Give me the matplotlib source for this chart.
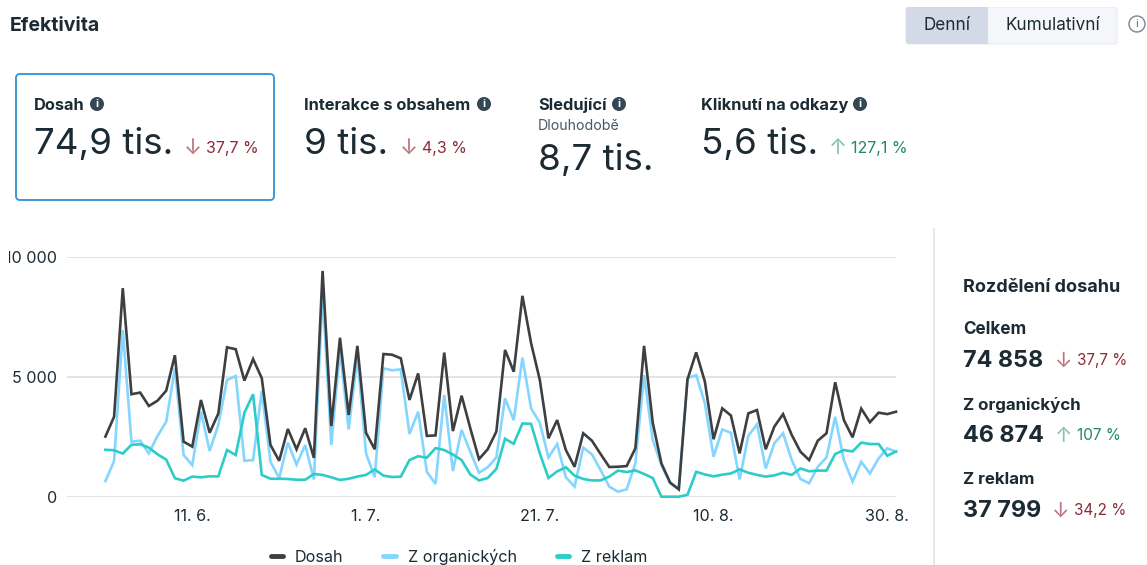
import matplotlib
matplotlib.use('Agg')
import matplotlib.pyplot as plt
from matplotlib.lines import Line2D
from matplotlib.patches import Circle, FancyBboxPatch, Rectangle
from matplotlib.transforms import Bbox
import numpy as np

plt.rcParams['font.family'] = ['Inter', 'DejaVu Sans']

# daily values, 1. 6. to 31. 8.
dosah = [2510, 3340, 8710, 4280, 4350, 3790, 4010, 4430, 5910, 2300, 2090, 4040, 2670, 3480, 6240, 6160,
         4850, 5750, 4950, 2160, 1500, 2830, 1980, 2860, 1620, 9430, 2950, 6640, 3410, 6300, 2670, 1980,
         5960, 5930, 5780, 4040, 5150, 2540, 2560, 6020, 2740, 4220, 2860, 1570, 1980, 2720, 6130, 5220,
         8390, 6410, 4880, 2440, 3200, 1950, 1250, 2650, 2340, 1780, 1240, 1250, 1280, 2020, 6300, 3090,
         1390, 590, 310, 4900, 6030, 4810, 2400, 3690, 3390, 1810, 3480, 3620, 1980, 2930, 3450, 2580,
         1880, 1530, 2340, 2650, 4780, 3200, 2480, 3680, 3110, 3510, 3450, 3550]
organicke = [650, 1490, 6960, 2300, 2340, 1810, 2540, 3130, 5360, 1740, 1320, 3550, 1910, 3000, 4880, 5040,
             1500, 1530, 4420, 1460, 780, 2260, 1340, 2160, 720, 8500, 2160, 6130, 2810, 5850, 1810, 810,
             5360, 5280, 5320, 2620, 3550, 1040, 530, 4250, 1070, 2790, 1880, 1000, 1230, 1640, 4110, 3200,
             5810, 3690, 3090, 1640, 2200, 810, 420, 2050, 1770, 1110, 420, 210, 310, 1390, 5080, 2370,
             1320, 560, 310, 4950, 5080, 3900, 1670, 2810, 2670, 720, 2540, 3020, 1180, 2230, 2650, 1530,
             740, 560, 1250, 1640, 3340, 1530, 630, 1460, 970, 1600, 2020, 1880]
reklamy = [1960, 1940, 1800, 2170, 2190, 2050, 1770, 1550, 770, 670, 840, 810, 850, 850, 1950, 1740,
           3510, 4280, 910, 750, 750, 740, 710, 710, 950, 910, 810, 700, 750, 840, 910, 1140,
           880, 820, 840, 1530, 1690, 1630, 2030, 1950, 1760, 1530, 930, 680, 780, 1160, 2420, 2210,
           3060, 3040, 1810, 780, 1060, 1230, 880, 740, 680, 680, 840, 1090, 1030, 1100,
           950, 780, 0, 0, 0, 80, 1040, 930, 850, 920, 970, 1140, 1000, 910, 840, 890, 1000, 910,
           1180, 1060, 1090, 1090, 1780, 1950, 1890, 2260, 2200, 2200, 1710, 1890]
days = np.arange(len(dosah))

tick_days = [10, 30, 50, 70, 90]
tick_labels = ['11. 6.', '1. 7.', '21. 7.', '10. 8.', '30. 8.']
y_ticks = [0, 5000, 10000]
y_labels = ['0', '5 000', '10 000']

DARK = '#1c2b33'
RED = '#8e2a3a'
RED_ARROW = '#b9737d'
GREEN = '#1f8a5f'
GREEN_ARROW = '#86c4a8'
W, H = 1147, 565

fig = plt.figure(figsize=(W / 100, H / 100), dpi=100, facecolor='white')

# page layer in pixel coordinates
page = fig.add_axes([0, 0, 1, 1])
page.set_xlim(0, W)
page.set_ylim(H, 0)
page.axis('off')


def info_icon(x, y, r=7):
    page.add_patch(Circle((x, y), r, fc='#344854', ec='none'))
    page.text(x, y + 0.3, 'i', color='white', fontsize=8, fontweight='bold', ha='center', va='center')


def delta(x, y, arrow, label, arrow_color, color, size=11.5):
    page.text(x - 1.5, y, arrow, color=arrow_color, fontsize=size + 4, ha='left', va='center')
    page.text(x + 21, y, label, color=color, fontsize=size, ha='left', va='center')


page.text(10, 26, 'Efektivita', color=DARK, fontsize=14, fontweight='bold', va='center')

# Denni / Kumulativni switch
page.add_patch(FancyBboxPatch((906, 7), 211, 37, boxstyle='round,pad=0,rounding_size=3', fc='#f5f6fa', ec='#e8eaf0', lw=0.8))
page.add_patch(FancyBboxPatch((906, 7), 82, 37, boxstyle='round,pad=0,rounding_size=3', fc='#d3d9e6', ec='none'))
page.add_patch(Rectangle((980, 7), 8, 37, fc='#d3d9e6', ec='none'))
page.add_patch(Rectangle((906, 0), 240, 7, fc='white', ec='none'))
page.text(947, 25, 'Denní', color=DARK, fontsize=12.3, ha='center', va='center')
page.text(1053, 25, 'Kumulativní', color=DARK, fontsize=12.3, ha='center', va='center')
page.add_patch(Circle((1137, 24), 8, fc='white', ec='#7d8488', lw=1))
page.text(1137, 24, 'i', color='#5c6468', fontsize=8, ha='center', va='center')

# metric cards
page.add_patch(FancyBboxPatch((16, 74), 258, 126, boxstyle='round,pad=0,rounding_size=4', fc='white', ec='#3f97d6', lw=1.4))

page.text(34, 105, 'Dosah', color=DARK, fontsize=11.8, fontweight='bold', va='center')
info_icon(97, 104)
page.text(34, 144, '74,9 tis.', color=DARK, fontsize=26.5, va='center')
delta(185, 148, '↓', '37,7 %', RED_ARROW, RED)

page.text(304, 105, 'Interakce s obsahem', color=DARK, fontsize=11.8, fontweight='bold', va='center')
info_icon(484, 104)
page.text(304, 144, '9 tis.', color=DARK, fontsize=26.5, va='center')
delta(401, 148, '↓', '4,3 %', RED_ARROW, RED)

page.text(538, 105, 'Sledující', color=DARK, fontsize=11.8, fontweight='bold', va='center')
info_icon(619, 104)
page.text(538, 126, 'Dlouhodobě', color='#465a66', fontsize=10.2, va='center')
page.text(538, 161, '8,7 tis.', color=DARK, fontsize=26.5, va='center')

page.text(701, 105, 'Kliknutí na odkazy', color=DARK, fontsize=11.8, fontweight='bold', va='center')
info_icon(860, 104)
page.text(701, 144, '5,6 tis.', color=DARK, fontsize=26.5, va='center')
delta(830, 148, '↑', '127,1 %', GREEN_ARROW, GREEN)

# side panel
page.plot([933.5, 933.5], [229, H], color='#dfe3ec', lw=1.2)
page.text(963, 287, 'Rozdělení dosahu', color=DARK, fontsize=13, fontweight='bold', va='center')
page.text(963, 329, 'Celkem', color=DARK, fontsize=12.3, fontweight='bold', va='center')
page.text(963, 361, '74 858', color=DARK, fontsize=16.8, fontweight='bold', va='center')
delta(1056, 361, '↓', '37,7 %', RED_ARROW, RED, 11)
page.text(963, 405, 'Z organických', color=DARK, fontsize=12.2, fontweight='bold', va='center')
page.text(963, 436, '46 874', color=DARK, fontsize=16.8, fontweight='bold', va='center')
delta(1056, 436, '↑', '107 %', GREEN_ARROW, GREEN, 11)
page.text(963, 480, 'Z reklam', color=DARK, fontsize=12.2, fontweight='bold', va='center')
page.text(963, 511, '37 799', color=DARK, fontsize=16.8, fontweight='bold', va='center')
delta(1053, 511, '↓', '34,2 %', RED_ARROW, RED, 11)

# line chart
left, right, top, bottom = 67, 896, 257.3, 496.7
ax = fig.add_axes([left / W, 1 - bottom / H, (right - left) / W, (bottom - top) / H])
ax.patch.set_alpha(0)
ax.plot(days, organicke, color='#85d6ff', lw=1.9, clip_on=False, solid_joinstyle='miter')
ax.plot(days, reklamy, color='#2ccdc8', lw=1.9, clip_on=False, solid_joinstyle='miter')
ax.plot(days, dosah, color='#3e3f41', lw=1.9, clip_on=False, solid_joinstyle='miter')
ax.set_xlim(-4.42, 91)
ax.set_ylim(0, 10000)
ax.set_xticks(tick_days)
ax.set_xticklabels(tick_labels)
ax.set_yticks(y_ticks)
ax.set_yticklabels(y_labels)
ax.tick_params(length=0, labelsize=11.6, labelcolor=DARK)
ax.tick_params(axis='y', pad=7.2)
ax.tick_params(axis='x', pad=9)
ax.grid(axis='y', color='#e2e2e4', lw=1.3)
ax.set_axisbelow(True)
for s in ax.spines.values():
    s.set_visible(False)

# the reference cuts the top y label off at its left edge
for lab in ax.get_yticklabels():
    lab.set_clip_box(Bbox([[8.5, 0], [W, H]]))
    lab.set_clip_on(True)

handles = [Line2D([], [], color='#3e3f41', lw=3.5, solid_capstyle='round'),
           Line2D([], [], color='#85d6ff', lw=3.5, solid_capstyle='round'),
           Line2D([], [], color='#2ccdc8', lw=3.5, solid_capstyle='round')]
fig.legend(handles, ['Dosah', 'Z organických', 'Z reklam'], ncols=3, frameon=False, fontsize=11.6,
           labelcolor=DARK, loc='center', bbox_to_anchor=(459 / W, 1 - 557 / H),
           handlelength=0.75, handletextpad=0.75, columnspacing=2.5)

fig.savefig('out.png', dpi=100)
